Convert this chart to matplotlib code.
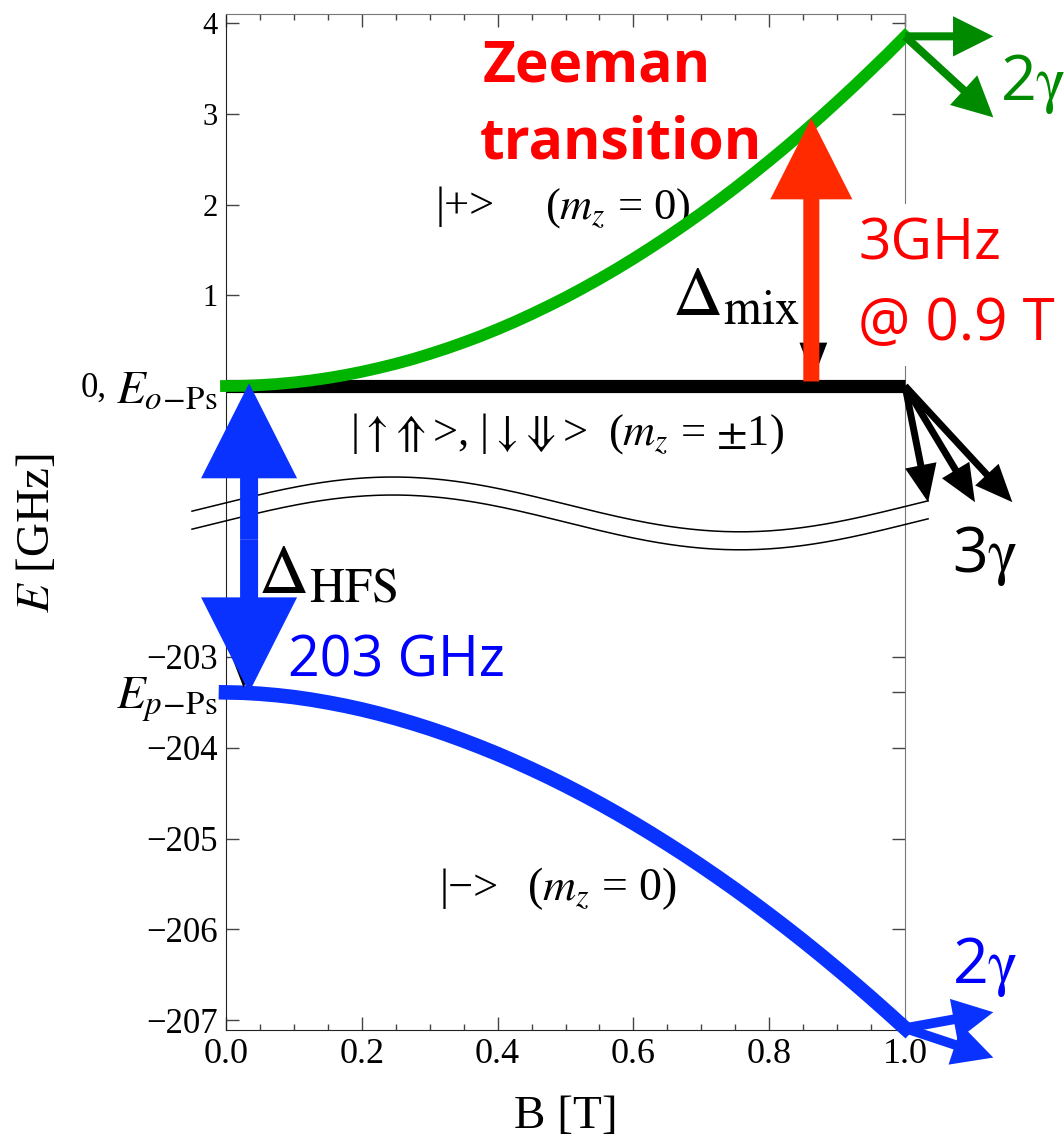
import numpy as np
import matplotlib
matplotlib.use("Agg")
import matplotlib.pyplot as plt
from matplotlib.patches import FancyArrowPatch

plt.rcParams['font.family'] = ['Liberation Serif', 'DejaVu Serif']
plt.rcParams['mathtext.fontset'] = 'stix'
SANS = ['Open Sans', 'DejaVu Sans']

# field values [T] and level energies [GHz]
B = [0.000, 0.025, 0.050, 0.075, 0.100, 0.125, 0.150, 0.175, 0.200, 0.225,
     0.250, 0.275, 0.300, 0.325, 0.350, 0.375, 0.400, 0.425, 0.450, 0.475,
     0.500, 0.525, 0.550, 0.575, 0.600, 0.625, 0.650, 0.675, 0.700, 0.725,
     0.750, 0.775, 0.800, 0.825, 0.850, 0.875, 0.900, 0.925, 0.950, 0.975,
     1.000]
E_plus = [0.000, 0.002, 0.010, 0.022, 0.039, 0.061, 0.088, 0.120, 0.157, 0.199,
          0.245, 0.296, 0.353, 0.414, 0.480, 0.550, 0.626, 0.706, 0.792, 0.882,
          0.976, 1.076, 1.180, 1.289, 1.403, 1.522, 1.645, 1.773, 1.905, 2.042,
          2.184, 2.331, 2.482, 2.637, 2.798, 2.962, 3.132, 3.305, 3.484, 3.665,
          3.853]
E_minus = [-203.390, -203.394, -203.405, -203.421, -203.442, -203.469, -203.501,
           -203.537, -203.578, -203.624, -203.675, -203.730, -203.789, -203.853,
           -203.921, -203.993, -204.069, -204.150, -204.235, -204.323, -204.416,
           -204.513, -204.614, -204.719, -204.828, -204.941, -205.058, -205.178,
           -205.303, -205.431, -205.563, -205.699, -205.839, -205.982, -206.129,
           -206.280, -206.435, -206.593, -206.755, -206.921, -207.090]
B_ortho = [0.0, 1.0]
E_ortho = [0.0, 0.0]
E_oPs = 0.0
E_pPs = -203.39
B_zeeman = 0.862      # position of the Zeeman transition arrow
E_zeeman_top = 2.95
B_hfs = 0.034

# y ticks: upper branch + lower branch
yticks_E = [4, 3, 2, 1, E_oPs, -203, E_pPs, -204, -205, -206, -207]
yticks_lab = ["4", "3", "2", "1", r"$E_{o\!-\!\mathrm{Ps}}$", "\u2212203",
              r"$E_{p\!-\!\mathrm{Ps}}$", "\u2212204", "\u2212205", "\u2212206", "\u2212207"]
xticks = [0.0, 0.2, 0.4, 0.6, 0.8, 1.0]

GAP = 200.014   # vertical shift applied to the lower (p-Ps) branch


def fold(E):
    E = np.asarray(E, dtype=float)
    return np.where(E < -100, E + GAP, E)


def arrow(ax, start, end, color, tail, hl, hw, z=6):
    style = "simple,head_length=%g,head_width=%g,tail_width=%g" % (hl, hw, tail)
    p = FancyArrowPatch(start, end, arrowstyle=style, mutation_scale=1,
                        color=color, shrinkA=0, shrinkB=0, lw=0, zorder=z,
                        clip_on=False)
    ax.add_patch(p)


fig = plt.figure(figsize=(10.64, 11.39), dpi=100)
ax = fig.add_axes([0.2124, 0.0957, 0.6382, 0.8920])
ax.set_xlim(0, 1)
ax.set_ylim(-7.096, 4.099)

# levels
ax.plot(B_ortho, fold(E_ortho), color="black", lw=9.5, solid_capstyle="butt",
        zorder=4, clip_on=False)
ax.plot(B, fold(E_plus), color="#00b400", lw=8.5, solid_capstyle="projecting",
        solid_joinstyle="round", zorder=4, clip_on=False)
ax.plot(B, fold(E_minus), color="#0a32ff", lw=10.5, solid_capstyle="projecting",
        solid_joinstyle="round", zorder=4, clip_on=False)

# axis break marks
xs = np.linspace(192, 928, 200)
wave = 504.4 - 27.4 * np.cos(2 * np.pi * (xs - 393) / 694)
for off in (0, 18):
    ax.plot((xs - 226) / 679, (386 - (wave + off)) / 90.75, color="black",
            lw=1.1, clip_on=False, zorder=3)

# thin black gap arrows (mostly hidden)
arrow(ax, (B_zeeman + 0.003, 2.2), (B_zeeman + 0.003, fold(E_oPs) + 0.08), "black", 2, 26, 20, z=5)
arrow(ax, (B_hfs - 0.008, -2.0), (B_hfs - 0.008, fold(E_pPs) + 0.05), "black", 2, 26, 20, z=5)

# Zeeman transition arrow
ax.arrow(B_zeeman, fold(E_oPs) + 0.05, 0, E_zeeman_top - 0.05, width=0.0236,
         head_width=0.1208, head_length=0.893, length_includes_head=True,
         color="#ff2a00", lw=0, zorder=7, clip_on=False)

# HFS double arrow
mid = float(fold(E_oPs) + fold(E_pPs)) / 2
for end in (float(fold(E_oPs)) + 0.03, float(fold(E_pPs))):
    ax.arrow(B_hfs, mid, 0, end - mid, width=0.0265, head_width=0.1414,
             head_length=1.047, length_includes_head=True, color="#0a32ff",
             lw=0, zorder=7, clip_on=False)

# decay arrows
g0 = (1.0, E_plus[-1])
arrow(ax, g0, (1.13, E_plus[-1]), "#008a00", 5.8, 29, 29)
arrow(ax, g0, (1.13, 2.96), "#008a00", 5.8, 29, 29)
b0 = (1.0, float(fold(E_minus[-1])))
arrow(ax, b0, (1.13, -6.90), "#0a32ff", 7, 29, 30)
arrow(ax, b0, (1.13, -7.40), "#0a32ff", 7, 29, 30)
for tip in [(1.034, -1.28), (1.103, -1.28), (1.158, -1.28)]:
    arrow(ax, (1.0, 0.0), tip, "black", 5, 27, 23)

# ticks and frame
ax.set_xticks(xticks)
ax.set_xticklabels(["%.1f" % v for v in xticks])
ax.set_xticks(np.arange(0, 1.0001, 0.05), minor=True)
ax.set_yticks(fold(yticks_E))
ax.set_yticklabels(yticks_lab)
ax.tick_params(axis="both", which="both", direction="in", top=True, right=True)
ax.tick_params(axis="both", which="major", length=9.4, width=1, color="#444444")
ax.tick_params(axis="x", which="minor", length=4.3, width=1, color="#444444")
ax.tick_params(axis="x", which="major", labelsize=26, pad=6)
ax.tick_params(axis="y", which="major", labelsize=25, pad=6)
for lab, txt in zip(ax.get_yticklabels(), yticks_lab):
    if txt.startswith("$E"):
        lab.set_fontsize(34)
    elif txt in ("1", "2", "3", "4"):
        lab.set_fontsize(22)
for side in ("top", "right"):
    ax.spines[side].set_color("#777777")
for side in ("left", "bottom"):
    ax.spines[side].set_color("#222222")
ax.text(-0.175, -0.12, "0,", fontsize=25, ha="right", va="baseline",
        transform=ax.get_yaxis_transform())

ax.set_xlabel("B [T]", fontsize=34)
ax.xaxis.set_label_coords(0.5, -0.0856)
ax.xaxis.label.set_va("center")
ax.set_ylabel("$E$ [GHz]", fontsize=34)
ax.yaxis.set_label_coords(-0.278, 0.489)
ax.yaxis.label.set_va("center")

# labels
ax.text(0.378, 3.36, "Zeeman", color="#ff0000", fontsize=41, fontweight="bold",
        family=SANS, ha="left", va="baseline", zorder=8)
ax.text(0.374, 2.51, "transition", color="#ff0000", fontsize=41, fontweight="bold",
        family=SANS, ha="left", va="baseline", zorder=8)
box = dict(facecolor="white", edgecolor="none", pad=9)
ax.text(0.931, 1.39, "3GHz", color="#ff0000", fontsize=41, family=SANS,
        ha="left", va="baseline", zorder=8, bbox=box)
ax.text(0.931, 0.51, "@ 0.9 T", color="#ff0000", fontsize=42, family=SANS,
        ha="left", va="baseline", zorder=8, bbox=box)
ax.text(1.140, 3.15, r"2$\mathrm{\gamma}$", color="#008a00", fontsize=45, family=SANS,
        ha="left", va="baseline")
ax.text(1.069, -2.05, r"3$\mathrm{\gamma}$", color="black", fontsize=45, family=SANS,
        ha="left", va="baseline")
ax.text(1.069, -6.58, r"2$\mathrm{\gamma}$", color="#0000ff", fontsize=45, family=SANS,
        ha="left", va="baseline")
ax.text(0.657, 0.78, r"$\Delta_{\mathrm{mix}}$", fontsize=50, ha="left",
        va="baseline", zorder=8)
ax.text(0.047, -2.28, r"$\Delta_{\mathrm{HFS}}$", fontsize=50, ha="left",
        va="baseline", zorder=8)
ax.text(0.091, -3.196, "203 GHz", color="#0000ff", fontsize=40, family=SANS,
        ha="left", va="baseline", zorder=8)

ax.text(0.308, 1.85, "|+>", fontsize=32, ha="left", va="baseline")
ax.text(0.470, 1.85, r"($m_z$ = 0)", fontsize=32, ha="left", va="baseline")
ax.text(0.183, -0.65, r"|$\uparrow\!\Uparrow$>, |$\downarrow\!\Downarrow$>",
        fontsize=32, ha="left", va="baseline")
ax.text(0.563, -0.65, r"($m_z$ = $\pm$1)", fontsize=32, ha="left", va="baseline")
ax.text(0.315, -5.66, "|\u2212>", fontsize=32, ha="left", va="baseline")
ax.text(0.443, -5.66, r"($m_z$ = 0)", fontsize=33, ha="left", va="baseline")

fig.savefig("out.png", dpi=100)
